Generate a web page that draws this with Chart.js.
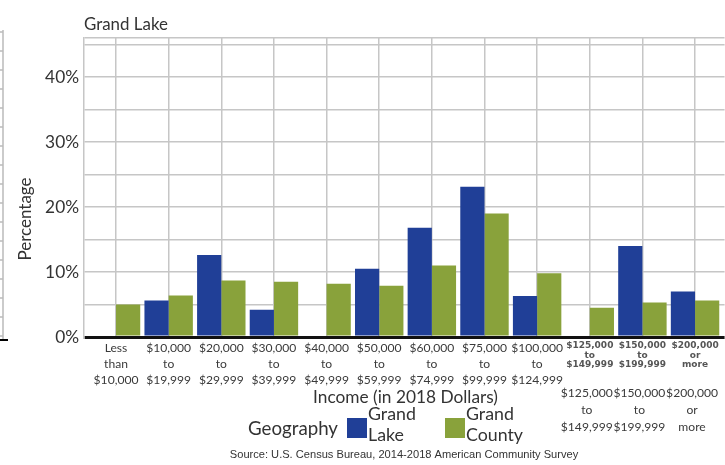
<!DOCTYPE html>
<html>
<head>
<meta charset="utf-8">
<script src="https://cdn.jsdelivr.net/npm/chart.js@4.4.1/dist/chart.umd.min.js"></script>
<style>
  html, body { margin: 0; padding: 0; background: #fff; }
  #wrap { width: 725px; height: 465px; position: relative; }
</style>
</head>
<body>
<div id="wrap"><canvas id="myChart"></canvas></div>
<script>
// ---- data ----
const categories = [
  ["Less", "than", "$10,000"],
  ["$10,000", "to", "$19,999"],
  ["$20,000", "to", "$29,999"],
  ["$30,000", "to", "$39,999"],
  ["$40,000", "to", "$49,999"],
  ["$50,000", "to", "$59,999"],
  ["$60,000", "to", "$74,999"],
  ["$75,000", "to", "$99,999"],
  ["$100,000", "to", "$124,999"],
  ["$125,000", "to", "$149,999"],
  ["$150,000", "to", "$199,999"],
  ["$200,000", "or", "more"]
];
const grandLake = [null, 5.6, 12.6, 4.2, null, 10.5, 16.8, 23.1, 6.3, null, 14.0, 7.0];
const grandCounty = [5.0, 6.4, 8.7, 8.5, 8.2, 7.9, 11.0, 19.0, 9.8, 4.5, 5.3, 5.6];
const seriesNames = ["Grand Lake", "Grand County"];
const yTicks = [0, 5, 10, 15, 20, 25, 30, 35, 40, 45, 46];
const yLabelled = [0, 10, 20, 30, 40];
const chartTitle = "Grand Lake";
const xTitle = "Income (in 2018 Dollars)";
const yTitle = "Percentage";
const legendTitle = "Geography";
const sourceText = "Source: U.S. Census Bureau, 2014-2018 American Community Survey";

const FONT = "Lato, 'Open Sans', sans-serif";
const BOLD = "'DejaVu Sans', sans-serif";
const BLUE = "#203f97";
const GREEN = "#89a23b";
const firstBold = 9; // last three tick labels came out bold/small in the original

// pick a font size so a text gets the width it has in the picture
const probe = document.createElement("canvas").getContext("2d");
function fit(text, width, family, weight) {
  probe.font = (weight || "normal") + " 100px " + family;
  return Math.round(width / probe.measureText(text).width * 1000) / 10;
}
const sz = {
  title: fit(chartTitle, 84, FONT),
  yTitle: fit(yTitle, 83, FONT),
  yTick: fit("40%", 34, FONT),
  xTick: fit("$100,000", 52, FONT),
  xTitle: fit(xTitle, 185, FONT),
  legendTitle: fit(legendTitle, 90, FONT),
  legend: fit("Grand", 48, FONT),
  bold: fit("$125,000", 47, BOLD, "bold"),
  source: fit(sourceText, 348, "'Liberation Sans', Arial, sans-serif")
};

// draws the bits Chart.js has no place for
const extras = {
  id: "extras",
  afterLayout(chart) {
    // categories sit a little inside the plot frame in the original
    const xs = chart.scales.x;
    xs.left = chart.chartArea.left + 5.7;
    xs.right = chart.chartArea.right - 3.2;
    xs.configure();
  },
  afterDraw(chart) {
    const ctx = chart.ctx;
    const xs = chart.scales.x;
    const area = chart.chartArea;
    ctx.save();
    ctx.fillStyle = "#333";
    ctx.textBaseline = "middle";

    // title
    ctx.font = sz.title + "px " + FONT;
    ctx.textAlign = "left";
    ctx.fillText(chartTitle, area.left, 25);

    // y title
    ctx.save();
    ctx.font = sz.yTitle + "px " + FONT;
    ctx.translate(26, 219);
    ctx.rotate(-Math.PI / 2);
    ctx.textAlign = "center";
    ctx.fillText(yTitle, 0, 0);
    ctx.restore();

    // repeated plain labels under the last three ticks
    ctx.font = sz.xTick + "px " + FONT;
    ctx.textAlign = "center";
    ctx.fillStyle = "#3a3a3a";
    for (let i = firstBold; i < categories.length; i++) {
      const x = xs.getPixelForTick(i) - 3;
      categories[i].forEach((line, j) => ctx.fillText(line, x, 393 + j * 17));
    }

    // legend
    ctx.fillStyle = "#333";
    ctx.font = sz.legendTitle + "px " + FONT;
    ctx.textAlign = "right";
    ctx.fillText(legendTitle, 338, 429);
    ctx.font = sz.legend + "px " + FONT;
    const boxX = [347, 445];
    chart.data.datasets.forEach((ds, i) => {
      ctx.fillStyle = ds.backgroundColor;
      ctx.fillRect(boxX[i], 418, 20, 20);
      ctx.fillStyle = "#333";
      ctx.textAlign = "left";
      ds.label.split(" ").forEach((w, j) => ctx.fillText(w, boxX[i] + 21, 414 + j * 21));
    });

    // source
    ctx.font = sz.source + "px 'Liberation Sans', Arial, sans-serif";
    ctx.textAlign = "center";
    ctx.fillStyle = "#333";
    ctx.fillText(sourceText, 404, 455);

    // leftover frame edge at the far left of the original picture
    ctx.strokeStyle = "#bbb";
    ctx.lineWidth = 1.5;
    ctx.beginPath();
    ctx.moveTo(3, 30);
    ctx.lineTo(3, 340);
    for (let y = 32; y < 340; y += 19) { ctx.moveTo(0, y); ctx.lineTo(3, y); }
    ctx.stroke();
    ctx.strokeStyle = "#000";
    ctx.lineWidth = 2;
    ctx.beginPath();
    ctx.moveTo(0, 340);
    ctx.lineTo(8, 340);
    ctx.stroke();
    ctx.restore();
  }
};

const ctx = document.getElementById("myChart").getContext("2d");
const chart = new Chart(ctx, {
  type: "bar",
  data: {
    labels: categories,
    datasets: [
      { label: seriesNames[0], data: grandLake, backgroundColor: BLUE },
      { label: seriesNames[1], data: grandCounty, backgroundColor: GREEN }
    ]
  },
  options: {
    responsive: true,
    maintainAspectRatio: false,
    animation: false,
    layout: { padding: { top: 38, left: 0, right: 0, bottom: 0 } },
    datasets: { bar: { categoryPercentage: 0.92, barPercentage: 1.0 } },
    plugins: {
      legend: { display: false },
      title: { display: false },
      tooltip: { enabled: false }
    },
    scales: {
      x: {
        afterFit: (scale) => { scale.height = 128; },
        grid: { offset: false, color: "#c6c6c6", lineWidth: 1.5, drawTicks: false },
        border: { display: false },
        ticks: {
          autoSkip: false,
          maxRotation: 0,
          padding: 3.5,
          color: (c) => (c.index >= firstBold ? "#555" : "#3a3a3a"),
          font: (c) => c.index >= firstBold
            ? { family: BOLD, size: sz.bold, weight: "bold", lineHeight: 9.8 / sz.bold }
            : { family: FONT, size: sz.xTick, lineHeight: 16 / sz.xTick }
        },
        title: {
          display: true,
          text: xTitle,
          color: "#333",
          font: { family: FONT, size: sz.xTitle, lineHeight: 1.2 },
          padding: { top: 0, bottom: 68 - sz.xTitle * 0.6 }
        }
      },
      y: {
        min: 0,
        max: 46,
        afterFit: (scale) => { scale.width = 84; },
        afterBuildTicks: (scale) => { scale.ticks = yTicks.map((v) => ({ value: v })); },
        grid: {
          drawTicks: false,
          color: (c) => (c.tick && c.tick.value === 0 ? "#111" : "#c6c6c6"),
          lineWidth: (c) => (c.tick && c.tick.value === 0 ? 3 : 1.5)
        },
        border: { display: true, color: "#c6c6c6", width: 1.5 },
        ticks: {
          padding: 5,
          color: "#333",
          font: { family: FONT, size: sz.yTick },
          callback: (v) => (yLabelled.includes(v) ? v + "%" : "")
        }
      }
    }
  },
  plugins: [extras]
});
</script>
</body>
</html>
